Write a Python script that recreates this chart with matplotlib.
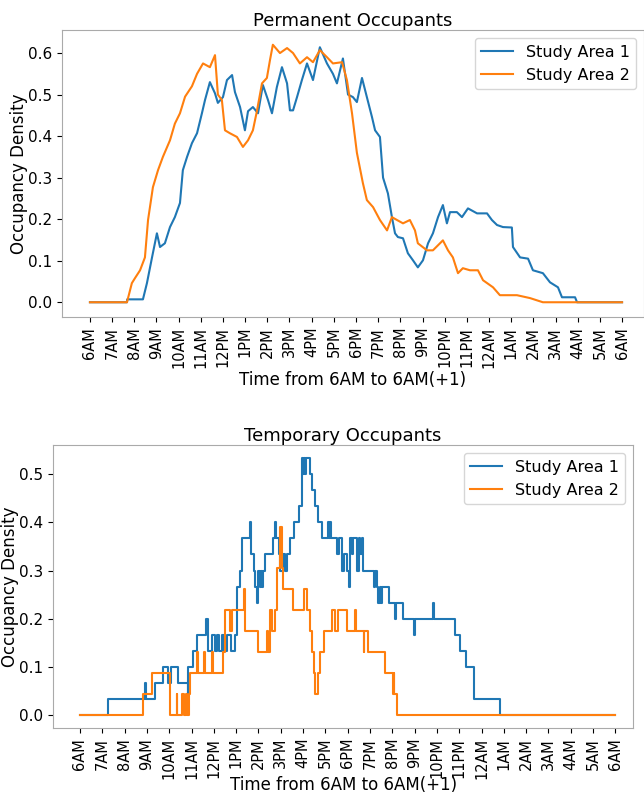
import matplotlib
matplotlib.use("Agg")
import matplotlib.pyplot as plt

hour_labels = ["6AM", "7AM", "8AM", "9AM", "10AM", "11AM", "12PM", "1PM", "2PM",
               "3PM", "4PM", "5PM", "6PM", "7PM", "8PM", "9PM", "10PM", "11PM",
               "12AM", "1AM", "2AM", "3AM", "4AM", "5AM", "6AM"]
series_names = ["Study Area 1", "Study Area 2"]

# Permanent occupants: hours after 6AM and occupancy density
perm_t1 = [0, 1.67, 1.68, 2.39, 2.57, 2.80, 3.02, 3.16, 3.38, 3.61, 3.83, 4.06, 4.19,
           4.38, 4.60, 4.83, 5.05, 5.19, 5.41, 5.64, 5.77, 6.00, 6.18, 6.41, 6.54,
           6.77, 6.99, 7.13, 7.35, 7.58, 7.80, 8.03, 8.21, 8.43, 8.66, 8.89, 9.02,
           9.16, 9.34, 9.56, 9.79, 10.06, 10.37, 10.69, 10.96, 11.14, 11.41, 11.64,
           11.86, 12.04, 12.27, 12.49, 12.72, 12.86, 13.08, 13.22, 13.44, 13.62,
           13.76, 13.89, 14.12, 14.34, 14.57, 14.79, 15.02, 15.25, 15.47, 15.70,
           15.92, 16.10, 16.24, 16.55, 16.78, 17.05, 17.46, 17.91, 18.13, 18.36,
           18.63, 19.03, 19.08, 19.40, 19.76, 19.98, 20.43, 20.75, 21.11, 21.29,
           21.88, 21.97, 24]
perm_v1 = [0, 0, 0.007, 0.007, 0.046, 0.108, 0.166, 0.133, 0.142, 0.181, 0.205, 0.239,
           0.318, 0.35, 0.383, 0.407, 0.455, 0.487, 0.53, 0.503, 0.48, 0.494, 0.535,
           0.547, 0.506, 0.47, 0.414, 0.46, 0.47, 0.455, 0.523, 0.487, 0.455, 0.518,
           0.566, 0.527, 0.462, 0.462, 0.494, 0.535, 0.575, 0.535, 0.614, 0.575, 0.55,
           0.527, 0.587, 0.50, 0.494, 0.482, 0.54, 0.494, 0.446, 0.414, 0.398, 0.30,
           0.262, 0.205, 0.166, 0.157, 0.154, 0.118, 0.101, 0.084, 0.101, 0.142,
           0.166, 0.205, 0.234, 0.19, 0.217, 0.217, 0.205, 0.226, 0.214, 0.214,
           0.198, 0.186, 0.181, 0.18, 0.133, 0.108, 0.105, 0.077, 0.07, 0.048, 0.036,
           0.012, 0.012, 0, 0]

perm_t2 = [0, 1.67, 1.89, 2.03, 2.26, 2.48, 2.62, 2.84, 3.07, 3.29, 3.61, 3.83, 4.06,
           4.29, 4.60, 4.83, 5.10, 5.41, 5.64, 5.77, 5.95, 6.09, 6.31, 6.63, 6.90,
           7.13, 7.35, 7.53, 7.76, 7.98, 8.12, 8.25, 8.57, 8.89, 9.16, 9.47, 9.79,
           10.06, 10.37, 10.69, 10.96, 11.37, 11.59, 11.82, 12.04, 12.31, 12.49,
           12.77, 13.08, 13.40, 13.62, 13.85, 14.12, 14.43, 14.66, 14.79, 15.20,
           15.47, 15.92, 16.15, 16.37, 16.60, 16.82, 17.14, 17.50, 17.73, 18.18,
           18.49, 19.26, 19.85, 20.43, 24]
perm_v2 = [0, 0, 0.046, 0.058, 0.077, 0.108, 0.198, 0.277, 0.318, 0.35, 0.39, 0.43,
           0.455, 0.495, 0.52, 0.55, 0.575, 0.566, 0.595, 0.50, 0.487, 0.414, 0.407,
           0.398, 0.374, 0.39, 0.414, 0.46, 0.527, 0.54, 0.583, 0.62, 0.60, 0.612,
           0.60, 0.575, 0.59, 0.578, 0.607, 0.59, 0.575, 0.578, 0.535, 0.455, 0.36,
           0.287, 0.246, 0.229, 0.198, 0.173, 0.205, 0.198, 0.19, 0.198, 0.173,
           0.142, 0.125, 0.125, 0.149, 0.125, 0.108, 0.07, 0.082, 0.077, 0.077,
           0.053, 0.036, 0.017, 0.017, 0.01, 0, 0]

# Temporary occupants: head counts over the capacity of each area
temp_cap = [30, 23]
temp_t1 = [0, 1.27, 2.92, 2.97, 3.36, 3.73, 3.95, 4.1, 4.4, 4.82, 4.86, 5.08, 5.23,
           5.66, 5.72, 5.9, 6.05, 6.12, 6.25, 6.35, 6.45, 6.6, 6.75, 6.95, 7.03,
           7.15, 7.25, 7.5, 7.6, 7.68, 7.78, 7.86, 7.93, 7.97, 8.05, 8.1, 8.15, 8.2,
           8.3, 8.6, 8.67, 8.72, 8.78, 8.9, 8.97, 9.1, 9.2, 9.3, 9.42, 9.6, 9.8,
           9.87, 9.95, 10.0, 10.05, 10.1, 10.15, 10.32, 10.4, 10.54, 10.65, 10.85,
           11.1, 11.15, 11.22, 11.27, 11.45, 11.52, 11.6, 11.74, 11.85, 11.95, 12.04,
           12.1, 12.2, 12.26, 12.4, 12.5, 12.56, 12.62, 12.68, 12.86, 13.16, 13.22,
           13.3, 13.38, 13.45, 13.5, 13.55, 13.83, 14.13, 14.18, 14.48, 14.95, 15.0,
           15.82, 15.88, 16.82, 17.05, 17.32, 17.65, 17.68, 18.84, 24]
temp_n1 = [0, 1, 2, 1, 2, 3, 2, 3, 2, 1, 3, 4, 5, 6, 4, 5, 4, 5, 4, 5, 4, 5, 4, 5, 8,
           9, 11, 11, 12, 10, 9, 8, 7, 9, 8, 9, 8, 9, 10, 10, 11, 12, 11, 10, 9, 10,
           9, 10, 11, 12, 13, 13, 16, 15, 16, 15, 16, 15, 14, 13, 12, 11, 12, 11, 12,
           11, 11, 10, 11, 9, 10, 9, 8, 11, 10, 11, 9, 11, 10, 11, 9, 9, 8, 9, 8, 7,
           8, 7, 8, 7, 6, 7, 6, 5, 6, 7, 6, 5, 4, 3, 2, 1, 0, 0]

temp_t2 = [0, 2.84, 3.21, 4.04, 4.33, 4.37, 4.56, 4.66, 4.74, 4.79, 4.88, 4.93, 5.23,
           5.3, 5.55, 5.61, 5.9, 5.98, 6.43, 6.51, 6.73, 6.81, 7.25, 7.33, 7.4, 8.0,
           8.37, 8.42, 8.52, 8.6, 8.75, 8.82, 8.97, 9.05, 9.12, 9.57, 10.02, 10.17,
           10.32, 10.39, 10.47, 10.54, 10.65, 10.77, 10.92, 11.22, 11.3, 11.45,
           11.55, 11.96, 12.34, 12.38, 12.71, 12.74, 12.89, 13.68, 14.03, 14.06,
           14.09, 14.21, 24]
temp_n2 = [0, 1, 2, 0, 1, 0, 1, 0, 1, 0, 1, 2, 3, 2, 3, 2, 3, 2, 3, 5, 4, 5, 5, 6,
           4, 3, 4, 3, 5, 4, 5, 7, 9, 7, 6, 5, 6, 5, 4, 3, 2, 1, 2, 3, 4, 4, 5, 4,
           5, 4, 5, 4, 3, 4, 3, 2, 1, 2, 1, 0, 0]

colors = ["#1f77b4", "#ff7f0e"]

fig = plt.figure(figsize=(6.44, 7.95), dpi=100)
ax1 = fig.add_axes([0.0963, 0.601, 0.9037, 0.361])
ax2 = fig.add_axes([0.0823, 0.0840, 0.9010, 0.356])

ax1.plot(perm_t1, perm_v1, color=colors[0], lw=1.5, label=series_names[0])
ax1.plot(perm_t2, perm_v2, color=colors[1], lw=1.5, label=series_names[1])
ax1.set_xlim(-1.26, 24.99)
ax1.set_ylim(-0.036, 0.655)
ax1.set_title("Permanent Occupants", fontsize=13, pad=3)
ax1.set_xlabel("Time from 6AM to 6AM(+1)", fontsize=12, labelpad=2)

ax2.plot(temp_t1, [n / temp_cap[0] for n in temp_n1], drawstyle="steps-post",
         color=colors[0], lw=1.5, label=series_names[0])
ax2.plot(temp_t2, [n / temp_cap[1] for n in temp_n2], drawstyle="steps-post",
         color=colors[1], lw=1.5, label=series_names[1])
ax2.set_xlim(-1.21, 24.8)
ax2.set_ylim(-0.027, 0.56)
ax2.set_title("Temporary Occupants", fontsize=13, pad=3)
ax2.set_xlabel("Time from 6AM to 6AM(+1)", fontsize=12, labelpad=-2)

for ax in (ax1, ax2):
    ax.set_xticks(range(len(hour_labels)))
    ax.set_xticklabels(hour_labels, rotation=90, fontsize=10.5)
    ax.tick_params(axis="y", labelsize=11)
    ax.set_ylabel("Occupancy Density", fontsize=12, labelpad=0)
    ax.legend(loc="upper right", fontsize=11.5)
    for s in ax.spines.values():
        s.set_color("#aaaaaa")

fig.savefig("out.png", dpi=100)
